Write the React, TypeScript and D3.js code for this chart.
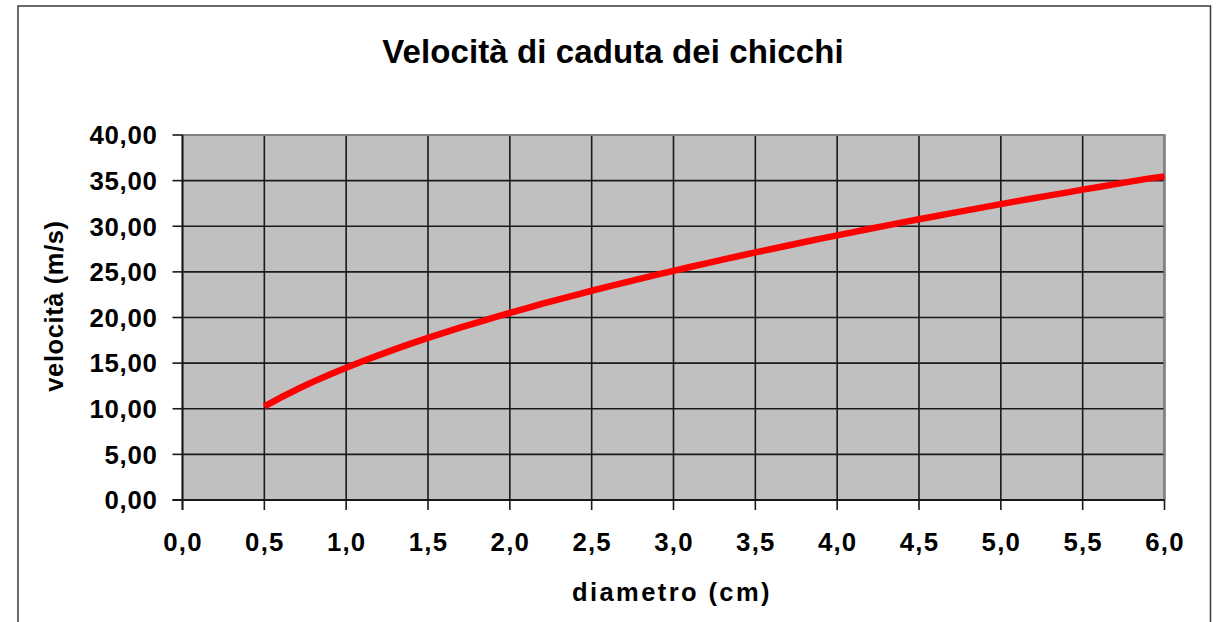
import React from "react";
import * as d3 from "d3";

const TITLE = "Velocità di caduta dei chicchi";
const X_TITLE = "diametro (cm)";
const Y_TITLE = "velocità (m/s)";

const diametro = [
  0.5, 0.6, 0.7, 0.8, 0.9, 1.0, 1.1, 1.2, 1.3, 1.4, 1.5, 1.6, 1.7, 1.8, 1.9,
  2.0, 2.1, 2.2, 2.3, 2.4, 2.5, 2.6, 2.7, 2.8, 2.9, 3.0, 3.1, 3.2, 3.3, 3.4,
  3.5, 3.6, 3.7, 3.8, 3.9, 4.0, 4.1, 4.2, 4.3, 4.4, 4.5, 4.6, 4.7, 4.8, 4.9,
  5.0, 5.1, 5.2, 5.3, 5.4, 5.5, 5.6, 5.7, 5.8, 5.9, 6.0,
];
const velocita = [
  10.25, 11.23, 12.13, 12.97, 13.76, 14.5, 15.21, 15.88, 16.53, 17.16, 17.76,
  18.34, 18.91, 19.45, 19.99, 20.51, 21.01, 21.51, 21.99, 22.46, 22.93, 23.38,
  23.83, 24.26, 24.69, 25.11, 25.53, 25.94, 26.34, 26.74, 27.13, 27.51, 27.89,
  28.27, 28.64, 29.0, 29.36, 29.72, 30.07, 30.42, 30.76, 31.1, 31.44, 31.77,
  32.1, 32.42, 32.75, 33.07, 33.38, 33.69, 34.01, 34.31, 34.62, 34.92, 35.22,
  35.45,
];
const xTicks = [0, 0.5, 1, 1.5, 2, 2.5, 3, 3.5, 4, 4.5, 5, 5.5, 6];
const yTicks = [0, 5, 10, 15, 20, 25, 30, 35, 40];

const FONT = "'Liberation Sans', Arial, Helvetica, sans-serif";

export default function App() {
  const left = 182.5;
  const right = 1164.5;
  const top = 135;
  const bottom = 500;
  const x = d3.scaleLinear().domain([0, 6]).range([left, right]);
  const y = d3.scaleLinear().domain([0, 40]).range([bottom, top]);
  const fmtX = (v: number) => d3.format(".1f")(v).replace(".", ",");
  const fmtY = (v: number) => d3.format(".2f")(v).replace(".", ",");
  const data = diametro.map((d, i) => [d, velocita[i]] as [number, number]);
  const line = d3
    .line<[number, number]>()
    .x((d) => x(d[0]))
    .y((d) => y(d[1]));

  return (
    <svg
      width={1218}
      height={622}
      style={{ position: "fixed", left: 0, top: 0, display: "block", background: "#fff" }}
      fontFamily={FONT}
      fontWeight="bold"
    >
      <rect x={0} y={0} width={1218} height={622} fill="#fff" />
      <path d="M18,630 V6 H1210.5 V630" fill="none" stroke="#3a3a3a" strokeWidth={1.5} />

      <text x={613} y={62.5} textAnchor="middle" fontSize={33} letterSpacing={0.1} fill="#000">
        {TITLE}
      </text>

      <rect x={left} y={top} width={right - left} height={bottom - top} fill="#c0c0c0" />

      {yTicks.map((t) => (
        <line key={"gy" + t} x1={left} x2={right} y1={y(t)} y2={y(t)} stroke="#1a1a1a" strokeWidth={1.6} />
      ))}
      {xTicks.map((t) => (
        <line key={"gx" + t} x1={x(t)} x2={x(t)} y1={top} y2={bottom} stroke="#1a1a1a" strokeWidth={1.6} />
      ))}
      <path d={`M${left},${top} H${right} V${bottom}`} fill="none" stroke="#808080" strokeWidth={2.2} />

      <line x1={left} x2={left} y1={top} y2={bottom + 10} stroke="#1a1a1a" strokeWidth={1.8} />
      <line x1={left - 10} x2={right} y1={bottom} y2={bottom} stroke="#1a1a1a" strokeWidth={1.8} />
      {yTicks.map((t) => (
        <line key={"ty" + t} x1={left - 10} x2={left} y1={y(t)} y2={y(t)} stroke="#1a1a1a" strokeWidth={1.6} />
      ))}
      {xTicks.map((t) => (
        <line key={"tx" + t} x1={x(t)} x2={x(t)} y1={bottom} y2={bottom + 10} stroke="#1a1a1a" strokeWidth={1.6} />
      ))}

      <path d={line(data) || ""} fill="none" stroke="#ff0000" strokeWidth={6.5} strokeLinejoin="round" strokeLinecap="butt" />

      {yTicks.map((t) => (
        <text
          key={"ly" + t}
          x={157.5}
          y={y(t) + 9.3}
          textAnchor="end"
          fontSize={25.8}
          letterSpacing={0.7}
          fill="#000"
        >
          {fmtY(t)}
        </text>
      ))}
      {xTicks.map((t) => (
        <text
          key={"lx" + t}
          x={x(t) + 0.5}
          y={550.5}
          textAnchor="middle"
          fontSize={25.8}
          letterSpacing={1.2}
          fill="#000"
        >
          {fmtX(t)}
        </text>
      ))}

      <text x={672} y={601} textAnchor="middle" fontSize={25.5} letterSpacing={2.4} fill="#000">
        {X_TITLE}
      </text>
      <text
        transform={`translate(63,306) rotate(-90)`}
        textAnchor="middle"
        fontSize={25.5}
        letterSpacing={0.6}
        fill="#000"
      >
        {Y_TITLE}
      </text>
    </svg>
  );
}
